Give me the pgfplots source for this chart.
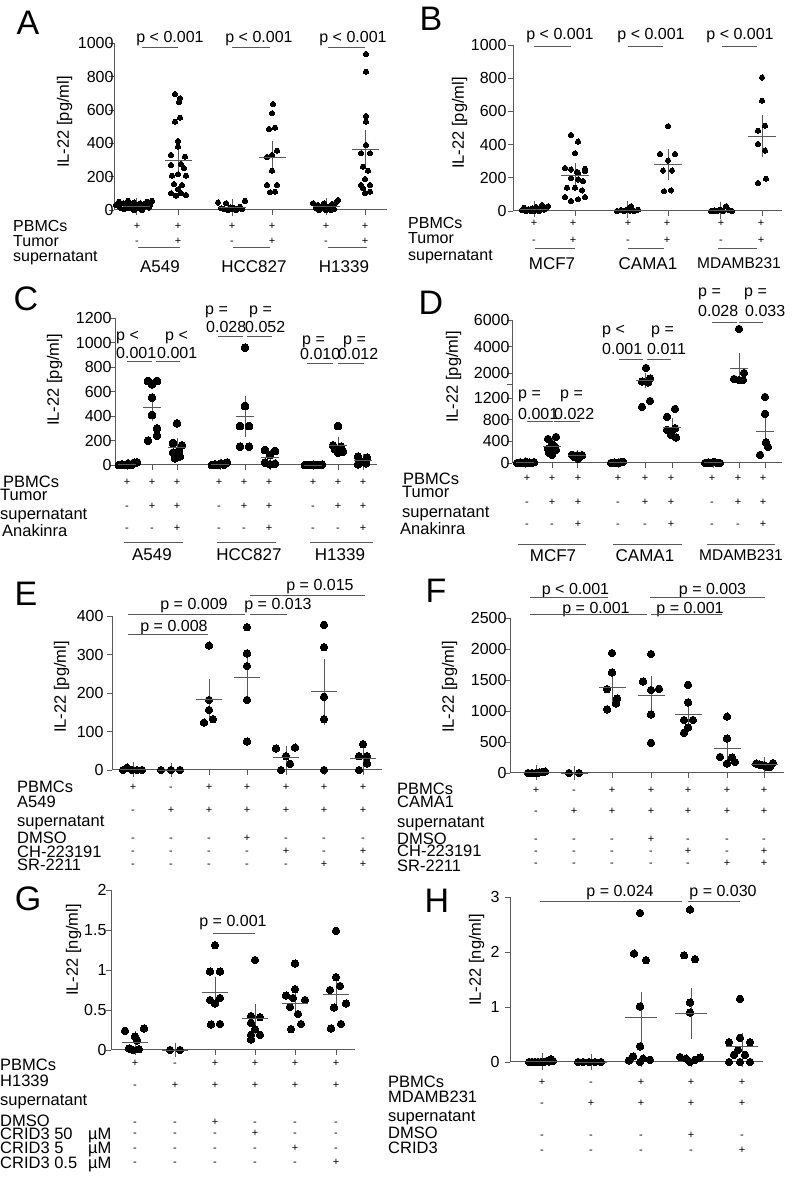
\documentclass[border=0pt]{standalone}
\usepackage{fontspec}
\setmainfont{Liberation Sans}
\usepackage{pgfplots}
\pgfplotsset{compat=1.18}
\definecolor{ax}{gray}{0.35}
\pgfplotsset{
  pan/.style={
    scale only axis, anchor=south west, clip=false,
    axis x line*=bottom, axis y line*=left,
    axis line style={-, line width=1pt, ax},
    xmin=0, ymin=0,
    tick align=outside, major tick length=5pt,
    tick style={line width=0.9pt, ax},
    xticklabels={},
    scaled y ticks=false,
    /pgf/number format/1000 sep={},
    /pgf/number format/assume math mode=true,
    yticklabel style={font=\fontsize{16}{18}\selectfont},
  },
  dots/.style={only marks, mark=*, mark size=#1, mark options={fill=black, draw=black, line width=0pt}},
  msem/.style 2 args={only marks, mark=-, mark size=#1, mark options={line width=0.9pt, draw=ax}, draw=ax,
     error bars/.cd, y dir=both, y explicit, error bar style={line width=0.9pt, ax},
     error mark options={mark size=#2, line width=0.9pt, ax}},
}
\tikzset{
  pv/.style={font=\fontsize{16}{18}\selectfont, text height=11.5pt, text depth=0pt, inner sep=0pt},
  pvl/.style={pv, anchor=west},
  rla/.style={font=\fontsize{16}{18}\selectfont, text height=11.5pt, text depth=0pt, inner sep=0pt, anchor=west},
  rl/.style={font=\fontsize{16.5}{18}\selectfont, text height=11.8pt, text depth=0pt, inner sep=0pt, anchor=west},
  gn/.style={font=\fontsize{17}{19}\selectfont, text height=12.2pt, text depth=0pt, inner sep=0pt},
  gns/.style={font=\fontsize{15.5}{18}\selectfont, text height=11.2pt, text depth=0pt, inner sep=0pt},
  pm/.style={font=\fontsize{11}{12}\selectfont, text height=7.9pt, text depth=0pt, inner sep=0pt},
  lt/.style={font=\fontsize{34}{36}\selectfont, text height=24.5pt, text depth=0pt, inner sep=0pt},
  yl/.style={font=\fontsize{16.5}{18}\selectfont, text height=11.9pt, text depth=0pt, inner sep=0pt, rotate=90},
  ln/.style={line width=0.9pt, draw=ax},
}
\begin{document}
\begin{tikzpicture}
\path[use as bounding box] (0,0) rectangle (793pt,1180pt);

% ---------------- A ----------------
\begin{axis}[pan, at={(114pt,970pt)}, width=273pt, height=166.7pt, xmax=273, ymax=1000,
  ytick={0,200,400,600,800,1000}, xtick={22,64,118,158,212,251}, yticklabel style={xshift=8pt}]
\addplot[dots=2.6pt] coordinates {
(2,30) (5,50) (6,15) (9,40) (10,5) (12,25) (14,55) (15,10) (17,35) (18,20) (20,45) (21,5) (23,30) (24,15) (26,40) (27,20) (29,10) (30,35) (32,25) (33,50) (35,15) (36,30) (38,55) (20,0) (28,0)
(61,696) (66,670) (65,646) (61,530) (66,554) (64,414) (64,380) (57,330) (71,320) (67,276) (57,270) (70,250) (64,214) (58,206) (72,206) (60,156) (68,150) (64,124) (57,100) (62,86) (67,100) (72,90)
(104,45) (107,10) (110,5) (112,40) (114,0) (116,15) (118,5) (120,10) (122,0) (124,8) (126,20) (128,5) (131,55) (119,12)
(159,636) (158,580) (155,486) (161,494) (163,356) (158,330) (153,318) (158,236) (153,150) (163,150) (156,106) (161,110)
(199,40) (202,10) (204,30) (206,5) (208,15) (210,40) (212,0) (214,20) (216,10) (218,35) (220,5) (222,45) (224,60) (211,25) (205,0) (217,0)
(252,936) (252,830) (252,564) (252,530) (252,390) (247,340) (256,340) (249,260) (254,236) (251,186) (247,150) (256,150) (249,130) (256,110) (251,100)
};
\addplot[msem={13.5pt}{8pt}] coordinates {
(22,22) +- (0,4) (64,300) +- (0,38) (118,15) +- (0,4) (158,316) +- (0,50) (212,20) +- (0,4) (251,364) +- (0,65)};
\end{axis}

% ---------------- B ----------------
\begin{axis}[pan, at={(513pt,969pt)}, width=269pt, height=166pt, xmax=269, ymax=1000,
  ytick={0,200,400,600,800,1000}, xtick={21,62,114,155,207,249}, yticklabel style={xshift=2pt}]
\addplot[dots=2.6pt] coordinates {
(9,5) (11,20) (13,0) (15,10) (17,3) (19,15) (21,0) (23,24) (25,5) (27,12) (29,35) (31,8) (33,18) (35,28) (22,8) (18,2) (26,0) (30,14)
(58,458) (65,418) (62,348) (52,258) (58,250) (72,254) (64,235) (72,240) (65,230) (58,198) (65,190) (70,180) (54,140) (62,140) (69,124) (52,84) (58,60) (65,70) (72,84)
(104,0) (108,5) (111,0) (114,10) (117,2) (118,28) (121,0) (125,8)
(155,510) (147,344) (162,344) (155,304) (150,244) (159,244) (151,118) (158,124)
(198,0) (201,3) (204,0) (207,8) (210,0) (213,28) (216,5) (219,0)
(249,804) (249,664) (245,484) (252,514) (245,404) (252,364) (253,194) (245,168)
};
\addplot[msem={14pt}{8pt}] coordinates {
(21,11) +- (0,2) (62,214) +- (0,25) (114,6) +- (0,3) (155,280) +- (0,45) (207,5) +- (0,3) (249,450) +- (0,78)};
\end{axis}

% ---------------- C ----------------
\begin{axis}[pan, at={(115pt,715pt)}, width=262pt, height=146.7pt, xmax=262, ymax=1200,
  ytick={0,200,400,600,800,1000,1200}, xtick={12,37,62,105,130,155,198,223,248}, yticklabel style={xshift=5pt}]
\addplot[dots=3.9pt] coordinates {
(4,0) (7,5) (10,0) (13,10) (16,0) (19,18) (22,22) (12,3)
(33,687) (37,660) (42,687) (37,551) (37,409) (42,300) (42,240) (33,199)
(62,341) (58,180) (67,160) (64,120) (58,100) (65,70) (60,55)
(97,0) (100,5) (103,0) (106,12) (109,3) (112,20)
(130,960) (130,483) (125,319) (134,319) (125,150) (134,150)
(150,123) (160,115) (155,82) (150,20) (160,10) (155,5)
(190,0) (193,0) (196,0) (199,0) (202,0) (205,0) (207,3)
(223,319) (218,160) (226,150) (220,130) (228,110) (223,100)
(243,68) (252,60) (246,27) (251,15) (243,5)
};
\addplot[msem={9pt}{5pt}] coordinates {
(12,7) +- (0,3) (37,467) +- (0,70) (62,140) +- (0,36) (105,7) +- (0,3) (130,395) +- (0,125) (155,60) +- (0,20) (198,0) +- (0,0) (223,160) +- (0,30) (248,35) +- (0,12)};
\end{axis}

% ---------------- D (broken axis) ----------------
\begin{axis}[pan, at={(512pt,717pt)}, width=270pt, height=79pt, xmax=270, ymax=1458,
  ytick={0,400,800,1200}, xtick={13,40,65,106,133,160,201,227,253}, yticklabel style={xshift=6pt}]
\addplot[dots=3.8pt] coordinates {
(5,0) (8,10) (11,0) (14,20) (17,5) (20,0) (22,15) (13,3)
(44,480) (36,443) (40,350) (43,300) (36,260) (44,240) (37,185) (40,148)
(60,150) (65,140) (70,145) (62,110) (68,115) (66,80)
(99,0) (102,5) (105,0) (108,10) (111,20) (106,3)
(130,1034) (138,1144)
(163,997) (155,850) (163,640) (155,610) (159,520) (164,470)
(193,0) (196,8) (199,0) (202,20) (205,3) (208,0)
(253,1218) (253,905) (254,384) (256,295) (248,148)
};
\addplot[msem={9pt}{5pt}] coordinates {
(13,7) +- (0,3) (40,301) +- (0,42) (65,135) +- (0,11) (106,6) +- (0,3) (160,665) +- (0,80) (201,5) +- (0,3) (253,590) +- (0,200)};
\end{axis}
\begin{axis}[pan, at={(512pt,796pt)}, width=270pt, height=64pt, xmin=0, xmax=270, ymin=1200, ymax=6000,
  axis x line=none, ytick={2000,4000,6000}, extra y ticks={1200}, extra y tick labels={}, yticklabel style={xshift=6pt}]
\addplot[dots=3.8pt] coordinates {
(134,2400) (138,1600) (130,1380) (136,1330)
(227,5325) (232,2025) (222,1575) (227,1500) (231,1500)
};
\addplot[msem={9pt}{5pt}] coordinates {(133,1450) +- (0,180) (227,2400) +- (0,750)};
\end{axis}

% ---------------- E ----------------
\begin{axis}[pan, at={(112pt,410pt)}, width=270pt, height=154pt, xmax=270, ymax=400,
  ytick={0,100,200,300,400}, xtick={21,59,97,135,174,212,251}]
\addplot[dots=3.7pt] coordinates {
(11,0) (15,6) (20,0) (25,0) (30,0)
(49,0) (59,0) (68,0)
(97,323) (97,182) (97,156) (101,132) (92,123)
(135,371) (135,303) (135,270) (135,182) (135,74)
(164,56) (183,58) (174,36) (178,16) (169,0)
(212,377) (212,319) (212,190) (212,132) (212,0)
(251,67) (247,36) (255,36) (255,17) (247,0)
};
\addplot[msem={13pt}{7pt}] coordinates {
(21,1) +- (0,1) (59,0) +- (0,0) (97,183) +- (0,36) (135,240) +- (0,51) (174,33) +- (0,11) (212,203) +- (0,67) (251,31) +- (0,11)};
\end{axis}

% ---------------- F ----------------
\begin{axis}[pan, at={(510pt,407pt)}, width=274pt, height=155pt, xmax=274, ymax=2500,
  ytick={0,500,1000,1500,2000,2500}, xtick={26,64,102,141,178,217,254}, yticklabel style={xshift=5pt}]
\addplot[dots=3.7pt] coordinates {
(18,0) (22,0) (26,0) (29,5) (32,16) (35,22)
(59,0) (69,0)
(102,1935) (102,1622) (97,1351) (107,1200) (106,1120) (97,1027)
(141,1919) (133,1476) (141,1340) (149,1357) (141,946) (141,486)
(178,1422) (178,1140) (174,854) (183,854) (178,735) (174,649)
(217,908) (217,557) (210,259) (222,249) (225,178) (217,151)
(246,150) (249,140) (252,130) (254,120) (257,100) (260,95) (263,160)
};
\addplot[msem={13.5pt}{7pt}] coordinates {
(26,7) +- (0,4) (64,0) +- (0,0) (102,1384) +- (0,135) (141,1254) +- (0,200) (178,946) +- (0,115) (217,395) +- (0,120) (254,135) +- (0,12)};
\end{axis}

% ---------------- G ----------------
\begin{axis}[pan, at={(111pt,130pt)}, width=244pt, height=160pt, xmax=244, ymax=2,
  ytick={0,0.5,1,1.5,2}, xtick={24,64,104,144,184,225}, yticklabel style={xshift=4pt}]
\addplot[dots=3.7pt] coordinates {
(14,0.24) (33,0.27) (24,0.17) (26,0.12) (18,0.02) (28,0.01) (22,0.0)
(59,0) (69,0)
(104,1.31) (99,0.98) (109,0.98) (99,0.625) (109,0.65) (104,0.58) (100,0.32) (109,0.325)
(144,1.125) (140,0.425) (149,0.41) (140,0.34) (144,0.26) (140,0.19) (149,0.19) (140,0.13)
(184,1.08) (184,0.76) (175,0.68) (182,0.65) (194,0.625) (179,0.54) (187,0.45) (190,0.325) (180,0.26)
(225,1.49) (225,0.91) (229,0.80) (219,0.75) (235,0.58) (223,0.53) (230,0.325) (220,0.27)
};
\addplot[msem={13pt}{7pt}] coordinates {
(24,0.1) +- (0,0.045) (64,0) +- (0,0) (104,0.72) +- (0,0.11) (144,0.39) +- (0,0.1) (184,0.58) +- (0,0.085) (225,0.69) +- (0,0.115)};
\end{axis}

% ---------------- H ----------------
\begin{axis}[pan, at={(510pt,118pt)}, width=253pt, height=165pt, xmax=253, ymax=3,
  ytick={0,1,2,3}, xtick={32,81,131,181,232}, yticklabel style={xshift=-2pt}]
\addplot[dots=3.7pt] coordinates {
(19,0) (22,0) (25,0) (28,0) (31,0) (34,0) (37,0.02) (39,0.01) (41,0.05) (43,0.02)
(68,0) (73,0) (79,0) (85,0) (91,0)
(130,2.71) (124,1.97) (136,1.85) (130,1.01) (130,0.285) (123,0.10) (133,0.06) (140,0.04) (119,0.03) (130,0)
(180,2.77) (174,1.94) (185,1.87) (180,1.08) (180,0.90) (170,0.09) (190,0.08) (176,0.06) (185,0.04) (180,0)
(230,1.15) (230,0.44) (219,0.36) (240,0.36) (228,0.22) (224,0.13) (235,0.13) (219,0) (230,0) (240,0)
};
\addplot[msem={16pt}{8pt}] coordinates {
(32,0.01) +- (0,0.005) (81,0) +- (0,0) (131,0.81) +- (0,0.32) (181,0.88) +- (0,0.32) (232,0.28) +- (0,0.1)};
\end{axis}

% ================= annotations (pixel coordinates) =================
\begin{scope}[x=1pt, y=-1pt, yshift=1180pt]
% panel letters
\node[lt] at (28,22) {A};
\node[lt] at (431,18) {B};
\node[lt] at (26,298) {C};
\node[lt] at (431,302) {D};
\node[lt] at (26,593) {E};
\node[lt] at (436,590) {F};
\node[lt] at (28,898) {G};
\node[lt] at (437,900) {H};
% y labels
\node[yl] at (63,122) {IL-22 [pg/ml]};
\node[yl] at (458,123) {IL-22 [pg/ml]};
\node[yl] at (53,380) {IL-22 [pg/ml]};
\node[yl] at (452,377) {IL-22 [pg/ml]};
\node[yl] at (60,687) {IL-22 [pg/ml]};
\node[yl] at (448,687) {IL-22 [pg/ml]};
\node[yl] at (72,950) {IL-22 [ng/ml]};
\node[yl] at (475,960) {IL-22 [ng/ml]};

% ---- A annotations
\node[pv] at (170,37) {p < 0.001}; \draw[ln] (142,47) -- (178,47);
\node[pv] at (259,37) {p < 0.001}; \draw[ln] (232,47) -- (270,47);
\node[pv] at (353,37) {p < 0.001}; \draw[ln] (328,47) -- (365,47);
\node[rla] at (13,225.5) {PBMCs};
\node[rla] at (13,240.5) {Tumor};
\node[rla] at (13,256) {supernatant};
\foreach \x in {137,178,232,272,326,365} \node[pm] at (\x,226) {+};
\foreach \x/\s in {137/-,178/+,232/-,272/+,326/-,365/+} \node[pm] at (\x,241) {\s};
\draw[ln] (138,247) -- (180,247); \draw[ln] (233,247) -- (270,247); \draw[ln] (328,247) -- (367,247);
\node[gn] at (160,266) {A549};
\node[gn] at (254,266) {HCC827};
\node[gn] at (344,266) {H1339};

% ---- B annotations
\node[pv] at (560,34) {p < 0.001}; \draw[ln] (534,46) -- (571,46);
\node[pv] at (651,34) {p < 0.001}; \draw[ln] (628,46) -- (663,46);
\node[pv] at (740,34) {p < 0.001}; \draw[ln] (722,46) -- (757,46);
\node[rla] at (408,222.5) {PBMCs};
\node[rla] at (408,237.5) {Tumor};
\node[rla] at (408,255) {supernatant};
\foreach \x in {534,573,628,667,721,761} \node[pm] at (\x,223) {+};
\foreach \x/\s in {534/-,573/+,628/-,667/+,721/-,761/+} \node[pm] at (\x,240) {\s};
\draw[ln] (535,248) -- (575,248); \draw[ln] (628,248) -- (664,248); \draw[ln] (718,248) -- (757,248);
\node[gn] at (552,263) {MCF7};
\node[gn] at (648,263) {CAMA1};
\node[gns] at (739,263) {MDAMB231};

% ---- C annotations
\node[pvl] at (116,335) {p <}; \node[pvl] at (116,353) {0.001};
\node[pvl] at (165,335) {p <}; \node[pvl] at (157,353) {0.001};
\draw[ln] (127,361) -- (152,361); \draw[ln] (156,361) -- (180,361);
\node[pvl] at (205,309) {p =}; \node[pvl] at (206,327) {0.028};
\node[pvl] at (249,309) {p =}; \node[pvl] at (245,327) {0.052};
\draw[ln] (218,336) -- (243,336); \draw[ln] (247,336) -- (272,336);
\node[pvl] at (302,339) {p =}; \node[pvl] at (300,354) {0.010};
\node[pvl] at (343,339) {p =}; \node[pvl] at (338,354) {0.012};
\draw[ln] (307,363) -- (333,363); \draw[ln] (338,363) -- (364,363);
\node[rl] at (3,481.5) {PBMCs};
\node[rl] at (0,494.5) {Tumor};
\node[rl] at (0,514) {supernatant};
\node[rl] at (2,531) {Anakinra};
\foreach \x in {127,152,177,219,244,269,313,338,363} \node[pm] at (\x,482) {+};
\foreach \x/\s in {127/-,152/+,177/+,219/-,244/+,269/+,313/-,338/+,363/+} \node[pm] at (\x,506) {\s};
\foreach \x/\s in {127/-,152/-,177/+,219/-,244/-,269/+,313/-,338/-,363/+} \node[pm] at (\x,528) {\s};
\draw[ln] (124,542) -- (183,542); \draw[ln] (217,542) -- (276,542); \draw[ln] (310,542) -- (373,542);
\node[gn] at (152,554) {A549};
\node[gn] at (249,554) {HCC827};
\node[gn] at (340,554) {H1339};

% ---- D annotations
\node[pvl] at (518,393) {p =}; \node[pvl] at (518,413.5) {0.001};
\node[pvl] at (560,393) {p =}; \node[pvl] at (554,413.5) {0.022};
\draw[ln] (527,421) -- (553,421); \draw[ln] (554,421) -- (580,421);
\node[pvl] at (602,329) {p <}; \node[pvl] at (602,349) {0.001};
\node[pvl] at (651,329) {p =}; \node[pvl] at (647,349) {0.011};
\draw[ln] (619,359) -- (643,359); \draw[ln] (647,359) -- (671,359);
\node[pvl] at (698,291) {p =}; \node[pvl] at (698,311) {0.028};
\node[pvl] at (744,291) {p =}; \node[pvl] at (745,311) {0.033};
\draw[ln] (712,322) -- (737,322); \draw[ln] (739,322) -- (763,322);
\node[rl] at (403,478.5) {PBMCs};
\node[rl] at (402,492) {Tumor};
\node[rl] at (402,512) {supernatant};
\node[rl] at (400,529) {Anakinra};
\foreach \x in {527,552,578,618,645,671,712,738,763} \node[pm] at (\x,478) {+};
\foreach \x/\s in {527/-,552/+,578/+,618/-,645/+,671/+,712/-,738/+,763/+} \node[pm] at (\x,502) {\s};
\foreach \x/\s in {527/-,552/-,578/+,618/-,645/-,671/+,712/-,738/-,763/+} \node[pm] at (\x,524) {\s};
\draw[ln] (518,544) -- (586,544); \draw[ln] (613,544) -- (682,544); \draw[ln] (707,544) -- (775,544);
\node[gn] at (553,555) {MCF7};
\node[gn] at (645,555) {CAMA1};
\node[gns] at (741,555) {MDAMB231};

% ---- E annotations
\node[pv] at (320,585) {p = 0.015}; \draw[ln] (250,595) -- (365,595);
\node[pv] at (194,603.5) {p = 0.009}; \draw[ln] (128,614) -- (245,614);
\node[pv] at (278,603.5) {p = 0.013}; \draw[ln] (250,614) -- (287,614);
\node[pv] at (174,626) {p = 0.008}; \draw[ln] (128,634) -- (208,634);
\node[rl] at (17,787) {PBMCs};
\node[rl] at (17,801.5) {A549};
\node[rl] at (17,821) {supernatant};
\node[rl] at (17,837.5) {DMSO};
\node[rl] at (17,851.5) {CH-223191};
\node[rl] at (17,865) {SR-2211};
\foreach \x/\s in {133/+,171/-,209/+,247/+,286/+,324/+,363/+} \node[pm] at (\x,787) {\s};
\foreach \x/\s in {133/-,171/+,209/+,247/+,286/+,324/+,363/+} \node[pm] at (\x,810) {\s};
\foreach \x/\s in {133/-,171/-,209/-,247/+,286/-,324/-,363/-} \node[pm] at (\x,838) {\s};
\foreach \x/\s in {133/-,171/-,209/-,247/-,286/+,324/-,363/+} \node[pm] at (\x,851) {\s};
\foreach \x/\s in {133/-,171/-,209/-,247/-,286/-,324/+,363/+} \node[pm] at (\x,864) {\s};

% ---- F annotations
\node[pv] at (575.5,588.5) {p < 0.001}; \draw[ln] (530,597) -- (608,597);
\node[pv] at (596,607.5) {p = 0.001}; \draw[ln] (530,614) -- (647,614);
\node[pv] at (712.5,588.5) {p = 0.003}; \draw[ln] (650,597) -- (765,597);
\node[pv] at (690,607.5) {p = 0.001}; \draw[ln] (651,614) -- (722,614);
\node[rl] at (397,788.5) {PBMCs};
\node[rl] at (397,801.5) {CAMA1};
\node[rl] at (397,822) {supernatant};
\node[rl] at (397,838.5) {DMSO};
\node[rl] at (397,851) {CH-223191};
\node[rl] at (397,866) {SR-2211};
\foreach \x/\s in {536/+,574/-,612/+,651/+,688/+,727/+,764/+} \node[pm] at (\x,790) {\s};
\foreach \x/\s in {536/-,574/+,612/+,651/+,688/+,727/+,764/+} \node[pm] at (\x,811) {\s};
\foreach \x/\s in {536/-,574/-,612/-,651/+,688/-,727/-,764/-} \node[pm] at (\x,839) {\s};
\foreach \x/\s in {536/-,574/-,612/-,651/-,688/+,727/-,764/+} \node[pm] at (\x,851) {\s};
\foreach \x/\s in {536/-,574/-,612/-,651/-,688/-,727/+,764/+} \node[pm] at (\x,863) {\s};

% ---- G annotations
\node[pv] at (233,921) {p = 0.001}; \draw[ln] (213,933) -- (255,933);
\node[rl] at (0,1064.5) {PBMCs};
\node[rl] at (0,1080.5) {H1339};
\node[rl] at (0,1100) {supernatant};
\node[rl] at (0,1120.5) {DMSO};
\node[rl] at (0,1133.5) {CRID3 50}; \node[rl] at (88,1133.5) {µM};
\node[rl] at (0,1148) {CRID3 5}; \node[rl] at (88,1148) {µM};
\node[rl] at (0,1162.5) {CRID3 0.5}; \node[rl] at (88,1162.5) {µM};
\foreach \x/\s in {135/+,175/-,215/+,255/+,295/+,336/+} \node[pm] at (\x,1063) {\s};
\foreach \x/\s in {135/-,175/+,215/+,255/+,295/+,336/+} \node[pm] at (\x,1085) {\s};
\foreach \x/\s in {135/-,175/-,215/+,255/-,295/-,336/-} \node[pm] at (\x,1121.5) {\s};
\foreach \x/\s in {135/-,175/-,215/-,255/+,295/-,336/-} \node[pm] at (\x,1133) {\s};
\foreach \x/\s in {135/-,175/-,215/-,255/-,295/+,336/-} \node[pm] at (\x,1148) {\s};
\foreach \x/\s in {135/-,175/-,215/-,255/-,295/-,336/+} \node[pm] at (\x,1162) {\s};

% ---- H annotations
\node[pv] at (620,891) {p = 0.024}; \draw[ln] (540,901) -- (682,901);
\node[pv] at (723,891) {p = 0.030}; \draw[ln] (688,901) -- (740,901);
\node[rl] at (388,1082) {PBMCs};
\node[rl] at (388,1096.5) {MDAMB231};
\node[rl] at (388,1115.5) {supernatant};
\node[rl] at (388,1133) {DMSO};
\node[rl] at (388,1148) {CRID3};
\foreach \x/\s in {542/+,591/-,641/+,691/+,742/+} \node[pm] at (\x,1082) {\s};
\foreach \x/\s in {542/-,591/+,641/+,691/+,742/+} \node[pm] at (\x,1103) {\s};
\foreach \x/\s in {542/-,591/-,641/-,691/+,742/-} \node[pm] at (\x,1135) {\s};
\foreach \x/\s in {542/-,591/-,641/-,691/-,742/+} \node[pm] at (\x,1150) {\s};
\end{scope}
\end{tikzpicture}
\end{document}
